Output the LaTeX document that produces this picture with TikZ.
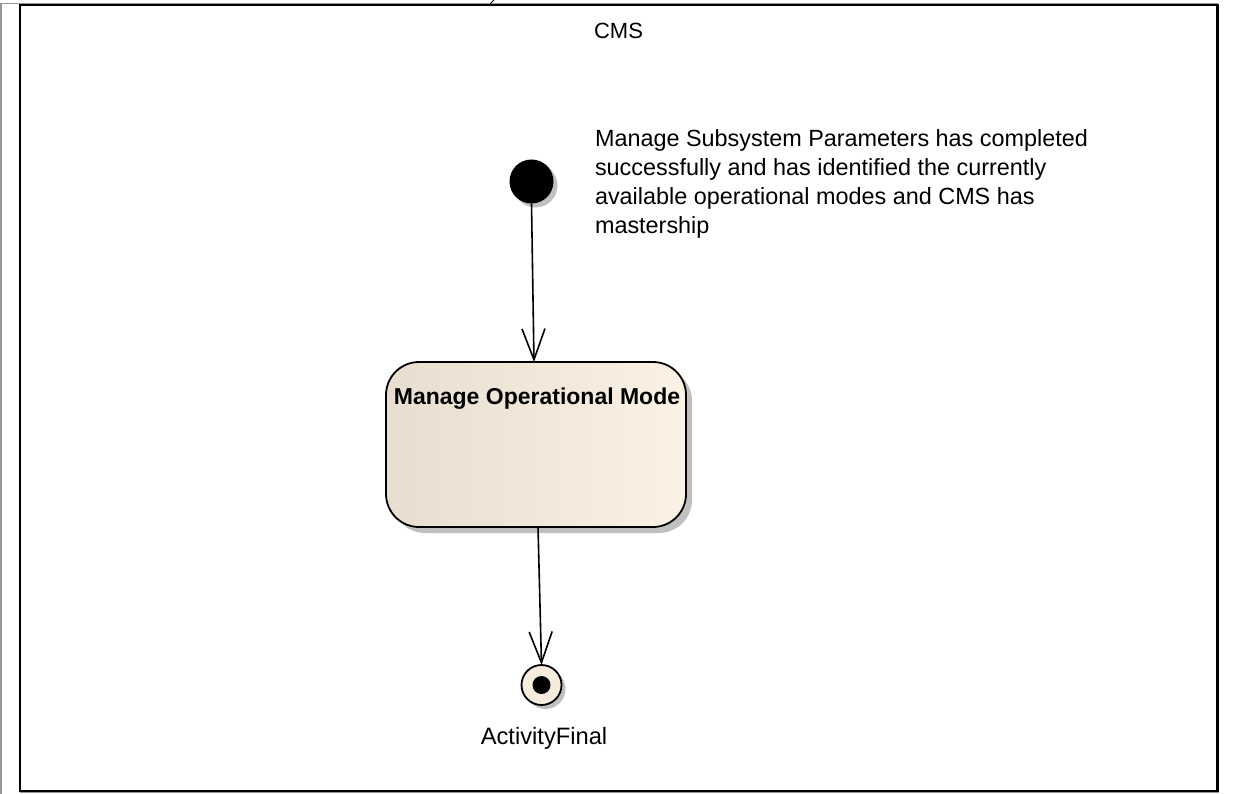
\documentclass[tikz,border=0pt]{standalone}
\usepackage{fontspec}
\setmainfont{Liberation Sans}
\usetikzlibrary{arrows.meta,shadows}
\definecolor{shadowgray}{RGB}{192,192,192}
\definecolor{outergray}{RGB}{150,150,150}
\definecolor{actL}{RGB}{232,222,208}
\definecolor{actR}{RGB}{251,241,228}
\definecolor{finalfill}{RGB}{245,236,222}
\begin{document}
\begin{tikzpicture}[x=1pt,y=-1pt,
  every node/.style={inner sep=0pt, outer sep=0pt},
  framebox/.style={draw=black, line width=2.5pt},
  outerline/.style={draw=outergray, line width=1.2pt},
  initnode/.style={circle, fill=black, minimum size=44pt,
    drop shadow={shadow xshift=4pt, shadow yshift=-4pt, fill=shadowgray, opacity=1}},
  actbox/.style={rectangle, rounded corners=33pt, draw=black, line width=1.8pt,
    left color=actL, right color=actR, minimum width=300pt, minimum height=165pt,
    drop shadow={shadow xshift=6pt, shadow yshift=-6pt, fill=shadowgray, opacity=1}},
  finalnode/.style={circle, draw=black, line width=1.8pt, fill=finalfill, minimum size=40pt,
    drop shadow={shadow xshift=4pt, shadow yshift=-4pt, fill=shadowgray, opacity=1}},
  finaldot/.style={circle, fill=black, minimum size=18pt},
  flow/.style={draw=black, line width=1.6pt, -{Straight Barb[length=31pt, width=23pt]}},
  txt/.style={font=\fontsize{23.4}{29}\selectfont},
]
\useasboundingbox (0,0) rectangle (1233,794);
% outer partial frame
\draw[outerline] (1,794) -- (1,3.5) -- (1218,3.5);
\draw[outerline] (20,792.8) -- (1218.5,792.8);
\draw[line width=0.8pt] (490,4) -- (494,0);
% lane frame
\draw[framebox] (20,5) rectangle (1217.5,791);
\node[font=\fontsize{22}{26}\selectfont, anchor=base] (cms) at (618.5,38.5) {CMS};

% nodes
\node[initnode] (init) at (531.5,181.5) {};
\node[actbox] (act) at (536,444.5) {};
\node[font=\fontsize{23}{27}\selectfont\bfseries, anchor=base] (acttitle) at ([xshift=1pt, yshift=-42pt]act.north) {Manage Operational Mode};
\node[finalnode] (final) at (541.5,685) {};
\node[finaldot] (fdot) at (final.center) {};
\node[font=\fontsize{23.7}{28}\selectfont, anchor=base] (flabel) at ([xshift=2.5pt, yshift=-39pt]final.south) {ActivityFinal};

% guard note
\node[txt, anchor=north west, align=left] (guard) at (595,130)
  {Manage Subsystem Parameters has completed\\
   successfully and has identified the currently\\
   available operational modes and CMS has\\
   mastership};

% flows
\draw[flow] (init.south) -- ([xshift=-2pt]act.north);
\draw[flow] ([xshift=2pt]act.south) -- (final.north);
\end{tikzpicture}
\end{document}
